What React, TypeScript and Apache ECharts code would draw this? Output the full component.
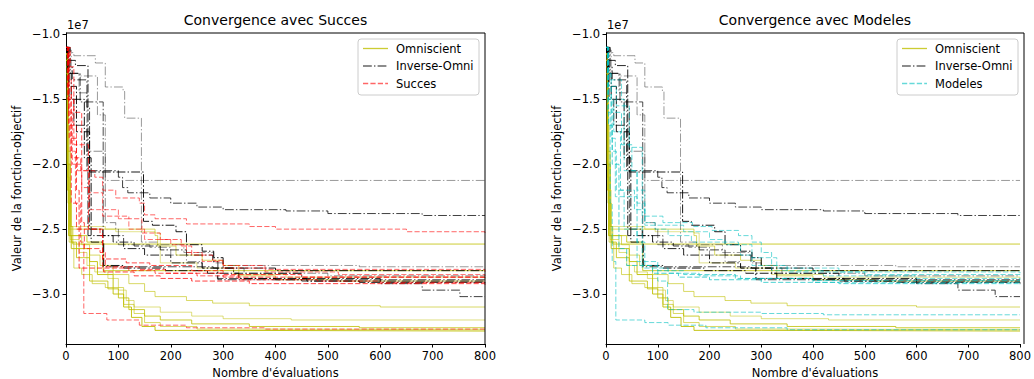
import React, { useEffect, useRef } from "react";
import * as echarts from "echarts";

// Best-so-far objective values (units of 1e7) against evaluation count, one array per run.
const omniscientRuns: number[][][] = [
  [[0, -1.15], [3, -1.9], [8, -2.48], [13, -2.615], [800, -2.615]],
  [[0, -1.1], [3, -1.7], [6, -2.5], [170, -2.55], [175, -2.63], [210, -2.7], [260, -2.74], [300, -2.78], [330, -2.86], [400, -2.89], [520, -2.9], [800, -2.9]],
  [[0, -1.2], [4, -2.0], [8, -2.55], [40, -2.6], [71, -2.82], [800, -2.82]],
  [[0, -1.3], [3, -2.2], [6, -2.55], [30, -2.62], [45, -2.7], [65, -2.78], [90, -2.85], [120, -2.92], [150, -2.98], [170, -3.02], [230, -3.05], [280, -3.07], [350, -3.09], [600, -3.1], [800, -3.1]],
  [[0, -1.15], [3, -2.0], [8, -2.58], [25, -2.68], [40, -2.78], [55, -2.83], [80, -2.88], [100, -2.97], [115, -3.05], [130, -3.1], [180, -3.14], [240, -3.17], [300, -3.19], [430, -3.2], [800, -3.2]],
  [[0, -1.2], [4, -2.3], [10, -2.6], [20, -2.72], [45, -2.9], [80, -2.96], [100, -3.03], [120, -3.12], [150, -3.17], [180, -3.2], [240, -3.23], [350, -3.25], [560, -3.26], [800, -3.26]],
  [[0, -1.1], [3, -2.1], [6, -2.6], [15, -2.8], [30, -2.85], [50, -2.92], [75, -2.95], [110, -3.08], [130, -3.15], [150, -3.22], [180, -3.25], [250, -3.27], [330, -3.275], [800, -3.275]],
  [[0, -1.15], [2, -2.0], [5, -2.55], [10, -2.65], [45, -2.75], [60, -2.85], [90, -3.0], [110, -3.1], [125, -3.18], [145, -3.25], [170, -3.28], [300, -3.285], [800, -3.285]],
  [[0, -1.25], [3, -2.2], [10, -2.48], [75, -2.5], [95, -2.52], [170, -2.53], [180, -2.76], [250, -2.8], [320, -2.85], [420, -2.87], [800, -2.88]],
];
const omniscientAlpha = [0.8, 0.6, 0.8, 0.6, 0.5, 0.8, 0.6, 0.9, 0.45];

const inverseOmniRuns: number[][][] = [
  [[0, -1.1], [8, -1.14], [15, -1.164], [56, -1.22], [75, -1.405], [109, -1.44], [112, -1.645], [144, -2.6], [175, -2.62], [225, -2.68], [282, -2.76], [300, -2.78], [560, -2.79], [800, -2.79]],
  [[0, -1.12], [10, -1.3], [25, -1.32], [60, -1.62], [75, -2.125], [800, -2.125]],
  [[0, -1.1], [6, -1.5], [15, -1.7], [40, -2.05], [100, -2.1], [108, -2.18], [118, -2.22], [160, -2.26], [200, -2.3], [250, -2.33], [300, -2.35], [420, -2.36], [500, -2.38], [680, -2.395], [800, -2.4]],
  [[0, -1.1], [5, -1.4], [20, -1.75], [45, -2.06], [148, -2.44], [165, -2.47], [210, -2.52], [230, -2.62], [260, -2.67], [282, -2.72], [300, -2.8], [400, -2.82], [800, -2.82]],
  [[0, -1.1], [4, -1.25], [12, -1.35], [40, -1.56], [45, -2.5], [70, -2.55], [110, -2.6], [130, -2.63], [180, -2.66], [230, -2.7], [280, -2.75], [290, -2.89], [450, -2.9], [600, -2.92], [680, -2.97], [752, -3.02], [800, -3.02]],
  [[0, -1.1], [3, -1.2], [18, -1.24], [42, -2.55], [90, -2.6], [110, -2.65], [150, -2.7], [200, -2.76], [260, -2.8], [320, -2.84], [450, -2.88], [600, -2.9], [800, -2.9]],
  [[0, -1.1], [5, -1.3], [25, -1.45], [40, -1.9], [75, -2.45], [95, -2.5], [100, -2.62], [160, -2.64], [200, -2.7], [230, -2.75], [260, -2.8], [340, -2.84], [500, -2.86], [800, -2.86]],
  [[0, -1.1], [3, -1.3], [10, -1.5], [35, -1.95], [48, -2.6], [72, -2.78], [110, -2.8], [190, -2.82], [270, -2.84], [330, -2.88], [460, -2.9], [560, -2.91], [800, -2.92]],
  [[0, -1.1], [8, -1.3], [27, -1.52], [71, -2.79], [281, -2.8], [289, -2.88], [400, -2.89], [800, -2.895]],
];
const inverseOmniAlpha = [0.4, 0.4, 0.75, 0.9, 0.75, 0.85, 0.45, 0.9, 0.7];

const succesRuns: number[][][] = [
  [[0, -1.1], [3, -1.5], [8, -1.9], [18, -2.3], [28, -2.6], [34, -3.15], [78, -3.2], [140, -3.24], [230, -3.26], [380, -3.27], [800, -3.275]],
  [[0, -1.1], [4, -1.35], [10, -1.7], [20, -1.95], [28, -2.05], [55, -2.1], [70, -2.2], [95, -2.26], [140, -2.3], [150, -2.39], [170, -2.42], [230, -2.46], [350, -2.48], [400, -2.5], [650, -2.52], [800, -2.54]],
  [[0, -1.12], [5, -1.6], [12, -2.0], [30, -2.18], [43, -2.22], [70, -2.4], [120, -2.42], [145, -2.53], [180, -2.58], [220, -2.63], [240, -2.7], [280, -2.74], [300, -2.78], [380, -2.81], [800, -2.83]],
  [[0, -1.1], [5, -1.7], [10, -2.3], [20, -2.5], [65, -2.55], [70, -2.73], [115, -2.76], [160, -2.78], [240, -2.82], [300, -2.85], [450, -2.87], [800, -2.88]],
  [[0, -1.1], [4, -1.5], [15, -1.85], [43, -2.5], [70, -2.8], [120, -2.82], [170, -2.84], [250, -2.86], [330, -2.89], [480, -2.9], [600, -2.91], [800, -2.915]],
  [[0, -1.1], [6, -1.8], [20, -2.2], [25, -2.8], [72, -2.83], [130, -2.86], [180, -2.88], [240, -2.9], [350, -2.92], [800, -2.93]],
  [[0, -1.1], [3, -1.4], [10, -1.95], [22, -2.05], [45, -2.35], [100, -2.42], [120, -2.5], [150, -2.58], [200, -2.62], [230, -2.68], [260, -2.75], [300, -2.8], [380, -2.83], [520, -2.85], [800, -2.86]],
  [[0, -1.1], [8, -1.25], [15, -1.6], [30, -2.45], [35, -2.65], [65, -2.68], [75, -2.79], [140, -2.81], [190, -2.84], [300, -2.87], [800, -2.89]],
];
const succesAlpha = [0.6, 0.6, 0.6, 0.7, 0.65, 0.75, 0.55, 0.7];

const modelesRuns: number[][][] = [
  [[0, -1.1], [3, -1.6], [8, -2.3], [12, -2.75], [19, -3.2], [75, -3.22], [120, -3.24], [193, -3.26], [350, -3.275], [800, -3.275]],
  [[0, -1.1], [4, -1.5], [12, -1.9], [20, -2.2], [35, -2.5], [60, -2.75], [100, -2.9], [119, -3.12], [170, -3.14], [300, -3.15], [420, -3.16], [800, -3.16]],
  [[0, -1.1], [5, -1.5], [15, -1.75], [28, -2.2], [55, -2.35], [75, -2.4], [110, -2.45], [167, -2.48], [205, -2.51], [256, -2.55], [282, -2.6], [300, -2.68], [320, -2.78], [350, -2.83], [500, -2.85], [800, -2.86]],
  [[0, -1.1], [4, -1.4], [10, -1.8], [18, -2.25], [60, -2.3], [75, -2.47], [150, -2.52], [200, -2.58], [230, -2.62], [260, -2.7], [282, -2.78], [320, -2.82], [420, -2.86], [600, -2.88], [800, -2.89]],
  [[0, -1.1], [3, -1.3], [10, -1.6], [30, -1.85], [50, -2.05], [60, -2.6], [75, -2.78], [100, -2.82], [150, -2.85], [250, -2.88], [400, -2.895], [800, -2.9]],
  [[0, -1.1], [5, -1.7], [12, -2.0], [25, -2.65], [40, -2.78], [90, -2.84], [140, -2.87], [200, -2.89], [300, -2.91], [450, -2.92], [800, -2.93]],
  [[0, -1.1], [4, -1.4], [20, -1.55], [45, -1.87], [70, -2.8], [120, -2.84], [180, -2.86], [260, -2.88], [400, -2.91], [800, -2.92]],
  [[0, -1.1], [3, -1.3], [8, -1.35], [30, -1.5], [35, -2.05], [60, -2.2], [75, -2.45], [95, -2.5], [120, -2.55], [165, -2.6], [256, -2.62], [282, -2.72], [330, -2.8], [450, -2.83], [800, -2.84]],
];
const modelesAlpha = [0.6, 0.6, 0.6, 0.55, 0.65, 0.7, 0.6, 0.55];

const xTicks = [0, 100, 200, 300, 400, 500, 600, 700, 800];
const yTicks = [-3.0, -2.5, -2.0, -1.5, -1.0];
const panelTitles = ["Convergence avec Succes", "Convergence avec Modeles"];
const legendLabels = [
  ["Omniscient", "Inverse-Omni", "Succes"],
  ["Omniscient", "Inverse-Omni", "Modeles"],
];
const xAxisTitle = "Nombre d'évaluations";
const yAxisTitle = "Valeur de la fonction-objectif";
const offsetText = "1e7";

const FONT = '"DejaVu Sans", sans-serif';
const YELLOW = "#bfbf00";
const BLACK = "#000000";
const RED = "#ff0000";
const CYAN = "#00bfbf";
const SOLID: number[] = [];
const DASHED = [5.2, 2.2];
const DASH_DOT = [8.8, 2.2, 1.4, 2.2];

const grids = [
  { left: 66, top: 33, width: 419, height: 311 },
  { left: 606, top: 33, width: 418, height: 311 },
];

function runSeries(runs: number[][][], alphas: number[], color: string, dash: number[], idx: number, name: string, z: number) {
  return runs.map((data, i) => ({
    type: "line",
    name,
    xAxisIndex: idx,
    yAxisIndex: idx,
    data,
    step: "end",
    symbol: "none",
    showSymbol: false,
    silent: true,
    clip: true,
    z,
    lineStyle: { color, width: 1, type: dash.length ? dash : "solid", opacity: alphas[i] },
  }));
}

function minusFmt(v: number) {
  return (v < 0 ? "\u2212" : "") + Math.abs(v).toFixed(1);
}

export default function App() {
  const ref = useRef<HTMLDivElement>(null);
  useEffect(() => {
    document.body.style.margin = "0";
    const chart = echarts.init(ref.current!, undefined, { renderer: "svg" });

    const xAxes = grids.map((_, i) => ({
      type: "value",
      gridIndex: i,
      min: 0,
      max: 800,
      interval: 100,
      axisLine: { show: true, lineStyle: { color: "#000", width: 1 } },
      axisTick: { show: true, inside: false, length: 3.5, lineStyle: { color: "#000", width: 1 } },
      axisLabel: { color: "#000", fontSize: 11.5, fontFamily: FONT, margin: 6, showMinLabel: true, showMaxLabel: true, customValues: xTicks },
      splitLine: { show: false },
    }));
    const yAxes = grids.map((_, i) => ({
      type: "value",
      gridIndex: i,
      min: -3.385,
      max: -0.989,
      axisLine: { show: true, lineStyle: { color: "#000", width: 1 } },
      axisTick: { show: true, inside: false, length: 3.5, lineStyle: { color: "#000", width: 1 }, customValues: yTicks },
      axisLabel: { color: "#000", fontSize: 11.5, fontFamily: FONT, margin: 6, customValues: yTicks, formatter: (v: number) => minusFmt(v) },
      splitLine: { show: false },
    }));

    const series: any[] = [];
    const pairs: [number[][][], number[], string, string][] = [
      [succesRuns, succesAlpha, RED, "Succes"],
      [modelesRuns, modelesAlpha, CYAN, "Modeles"],
    ];
    pairs.forEach(([runs, alphas, color, name], idx) => {
      series.push(...runSeries(omniscientRuns, omniscientAlpha, YELLOW, SOLID, idx, "Omniscient", 2));
      series.push(...runSeries(inverseOmniRuns, inverseOmniAlpha, BLACK, DASH_DOT, idx, "Inverse-Omni", 3));
      series.push(...runSeries(runs, alphas, color, DASHED, idx, name, 4));
    });

    const graphic: any[] = [];
    const legendStyles = [
      [{ color: YELLOW, dash: SOLID, op: 0.8 }, { color: BLACK, dash: DASH_DOT, op: 0.6 }, { color: RED, dash: DASHED, op: 0.6 }],
      [{ color: YELLOW, dash: SOLID, op: 0.8 }, { color: BLACK, dash: DASH_DOT, op: 0.6 }, { color: CYAN, dash: DASHED, op: 0.6 }],
    ];
    grids.forEach((g, i) => {
      const cx = g.left + g.width / 2;
      graphic.push({
        type: "text", x: cx, y: 20,
        style: { text: panelTitles[i], fontSize: 14, fontFamily: FONT, fill: "#000", align: "center", verticalAlign: "middle" },
      });
      graphic.push({
        type: "text", x: g.left + 1, y: 25,
        style: { text: offsetText, fontSize: 11.5, fontFamily: FONT, fill: "#000", align: "left", verticalAlign: "middle" },
      });
      graphic.push({
        type: "text", x: cx, y: 373,
        style: { text: xAxisTitle, fontSize: 11.5, fontFamily: FONT, fill: "#000", align: "center", verticalAlign: "middle" },
      });
      graphic.push({
        type: "text", x: g.left - 49, y: g.top + g.height / 2, rotation: Math.PI / 2,
        style: { text: yAxisTitle, fontSize: 11.5, fontFamily: FONT, fill: "#000", align: "center", verticalAlign: "middle" },
      });
      // top and right frame
      graphic.push({
        type: "polyline", silent: true, z: 10,
        shape: { points: [[g.left, g.top], [g.left + g.width, g.top], [g.left + g.width, g.top + g.height]] },
        style: { stroke: "#000", lineWidth: 1, fill: null },
      });
      // legend box
      const bx = g.left + g.width - 127;
      const by = 39;
      graphic.push({
        type: "rect", z: 20,
        shape: { x: bx, y: by, width: 121, height: 56, r: 3 },
        style: { fill: "rgba(255,255,255,0.8)", stroke: "#cccccc", lineWidth: 1 },
      });
      legendLabels[i].forEach((label, k) => {
        const ly = 48.5 + k * 17.5;
        const st = legendStyles[i][k];
        graphic.push({
          type: "line", z: 21,
          shape: { x1: bx + 5, y1: ly, x2: bx + 30, y2: ly },
          style: { stroke: st.color, lineWidth: 1.3, lineDash: st.dash.length ? st.dash : null, opacity: st.op },
        });
        graphic.push({
          type: "text", z: 21, x: bx + 38, y: ly,
          style: { text: label, fontSize: 11.5, fontFamily: FONT, fill: "#000", align: "left", verticalAlign: "middle" },
        });
      });
    });

    chart.setOption({
      animation: false,
      backgroundColor: "#ffffff",
      grid: grids.map((g) => ({ ...g, containLabel: false })),
      xAxis: xAxes,
      yAxis: yAxes,
      series,
      graphic,
    });
    return () => chart.dispose();
  }, []);
  return <div ref={ref} style={{ width: 1034, height: 379 }} />;
}
